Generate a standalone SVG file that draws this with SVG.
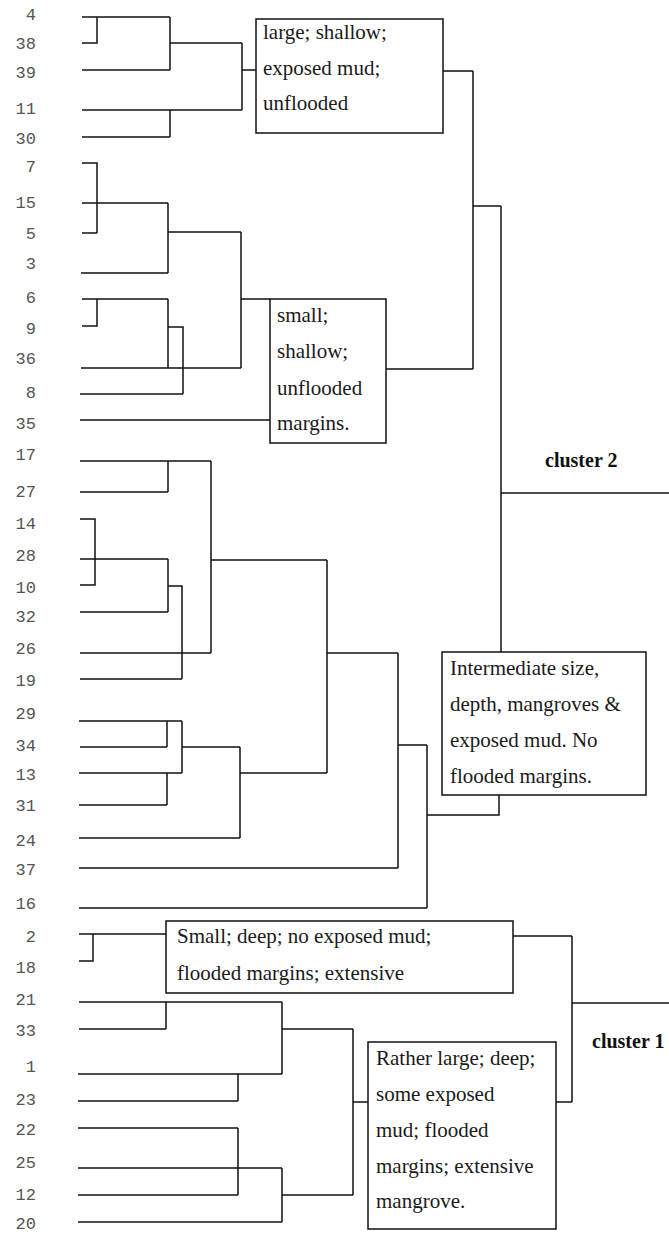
<svg xmlns="http://www.w3.org/2000/svg" width="669" height="1236" viewBox="0 0 669 1236">
<style>
.lbl{font-family:"Liberation Mono","Courier New",monospace;font-size:17px;fill:#555;text-anchor:end}
.bx{fill:#fff;stroke:#111;stroke-width:1.5}
.t{font-family:"Liberation Serif","Times New Roman",serif;font-size:21px;fill:#1a1a1a}
.cl{font-family:"Liberation Serif","Times New Roman",serif;font-size:20px;font-weight:bold;fill:#111}
.c{fill:none;stroke:#111;stroke-width:1.5}
</style>
<rect width="669" height="1236" fill="#fff"/>
<g id="leaves">
<text class="lbl" x="36" y="20">4</text>
<text class="lbl" x="36" y="49">38</text>
<text class="lbl" x="36" y="78">39</text>
<text class="lbl" x="36" y="114">11</text>
<text class="lbl" x="36" y="144">30</text>
<text class="lbl" x="36" y="172">7</text>
<text class="lbl" x="36" y="208">15</text>
<text class="lbl" x="36" y="239">5</text>
<text class="lbl" x="36" y="269">3</text>
<text class="lbl" x="36" y="303">6</text>
<text class="lbl" x="36" y="334">9</text>
<text class="lbl" x="36" y="364">36</text>
<text class="lbl" x="36" y="398">8</text>
<text class="lbl" x="36" y="429">35</text>
<text class="lbl" x="36" y="460">17</text>
<text class="lbl" x="36" y="497">27</text>
<text class="lbl" x="36" y="529">14</text>
<text class="lbl" x="36" y="561">28</text>
<text class="lbl" x="36" y="593">10</text>
<text class="lbl" x="36" y="622">32</text>
<text class="lbl" x="36" y="654">26</text>
<text class="lbl" x="36" y="686">19</text>
<text class="lbl" x="36" y="719">29</text>
<text class="lbl" x="36" y="751">34</text>
<text class="lbl" x="36" y="780">13</text>
<text class="lbl" x="36" y="811">31</text>
<text class="lbl" x="36" y="846">24</text>
<text class="lbl" x="36" y="875">37</text>
<text class="lbl" x="36" y="909">16</text>
<text class="lbl" x="36" y="942">2</text>
<text class="lbl" x="36" y="973">18</text>
<text class="lbl" x="36" y="1005">21</text>
<text class="lbl" x="36" y="1036">33</text>
<text class="lbl" x="36" y="1072">1</text>
<text class="lbl" x="36" y="1105">23</text>
<text class="lbl" x="36" y="1135">22</text>
<text class="lbl" x="36" y="1168">25</text>
<text class="lbl" x="36" y="1200">12</text>
<text class="lbl" x="36" y="1229">20</text>
</g>
<g id="connectors">
<path class="c" d="M82 17H170 M82 43H97V17 M82 70H170 M170 17V70 M170 43H242 M82 110H242 M170 110V137 M82 137H170 M242 43V110 M242 70H256"/>
<path class="c" d="M443 71H473 M473 71V369 M386 369H473 M473 206H501 M501 206V652 M501 493H669"/>
<path class="c" d="M82 163H97V233 M82 233H97 M82 203H168 M168 203V273 M81 273H168 M168 232H241 M241 232V368 M82 299H168 M97 299V326H82 M168 299V368 M81 368H241 M168 327H183V394 M80 394H183 M241 299H270 M80 420H270"/>
<path class="c" d="M80 461H211 M168 461V492 M80 492H168 M80 519H95V585H80 M80 559H168 M168 559V612 M80 612H168 M168 586H182V679 M80 679H182 M211 461V653 M80 653H211 M211 560H327 M327 560V773"/>
<path class="c" d="M79 721H182 M167 721V747 M80 747H167 M182 721V773 M79 773H182 M167 773V805 M79 805H167 M182 747H240 M240 747V838 M79 838H240 M240 773H327 M327 653H398 M398 653V868 M79 868H398 M398 745H427 M427 745V908 M79 908H427 M427 815H499V795"/>
<path class="c" d="M79 934H166 M93 934V961H79 M513 936H572 M572 936V1102 M556 1102H572 M572 1003H669"/>
<path class="c" d="M79 1002H282 M166 1002V1029 M79 1029H166 M282 1002V1074 M282 1029H353 M353 1029V1195 M353 1102H368 M78 1074H282 M238 1074V1101 M78 1101H238 M78 1128H238 M238 1128V1195 M78 1195H238 M78 1168H282 M282 1168V1222 M78 1222H282 M282 1195H353"/>
</g>
<g id="box1">
<rect class="bx" x="256" y="19" width="187" height="114"/>
<text class="t" x="263" y="39">large; shallow;</text>
<text class="t" x="263" y="75">exposed mud;</text>
<text class="t" x="263" y="110">unflooded</text>
</g>
<g id="box2">
<rect class="bx" x="270" y="299" width="116" height="144"/>
<text class="t" x="277" y="322">small;</text>
<text class="t" x="277" y="358">shallow;</text>
<text class="t" x="277" y="395">unflooded</text>
<text class="t" x="277" y="430">margins.</text>
</g>
<g id="box3">
<rect class="bx" x="442" y="652" width="204" height="143"/>
<text class="t" x="450" y="675">Intermediate size,</text>
<text class="t" x="450" y="711">depth, mangroves &amp;</text>
<text class="t" x="450" y="747">exposed mud. No</text>
<text class="t" x="450" y="783">flooded margins.</text>
</g>
<g id="box4">
<rect class="bx" x="166" y="921" width="347" height="72"/>
<text class="t" x="177" y="943">Small; deep; no exposed mud;</text>
<text class="t" x="177" y="980">flooded margins; extensive</text>
</g>
<g id="box5">
<rect class="bx" x="368" y="1042" width="188" height="187"/>
<text class="t" x="376" y="1065">Rather large; deep;</text>
<text class="t" x="376" y="1101">some exposed</text>
<text class="t" x="376" y="1137">mud; flooded</text>
<text class="t" x="376" y="1173">margins; extensive</text>
<text class="t" x="376" y="1208">mangrove.</text>
</g>
<g id="cluster2"><text class="cl" x="545" y="467">cluster 2</text></g>
<g id="cluster1"><text class="cl" x="592" y="1048">cluster 1</text></g>
</svg>
